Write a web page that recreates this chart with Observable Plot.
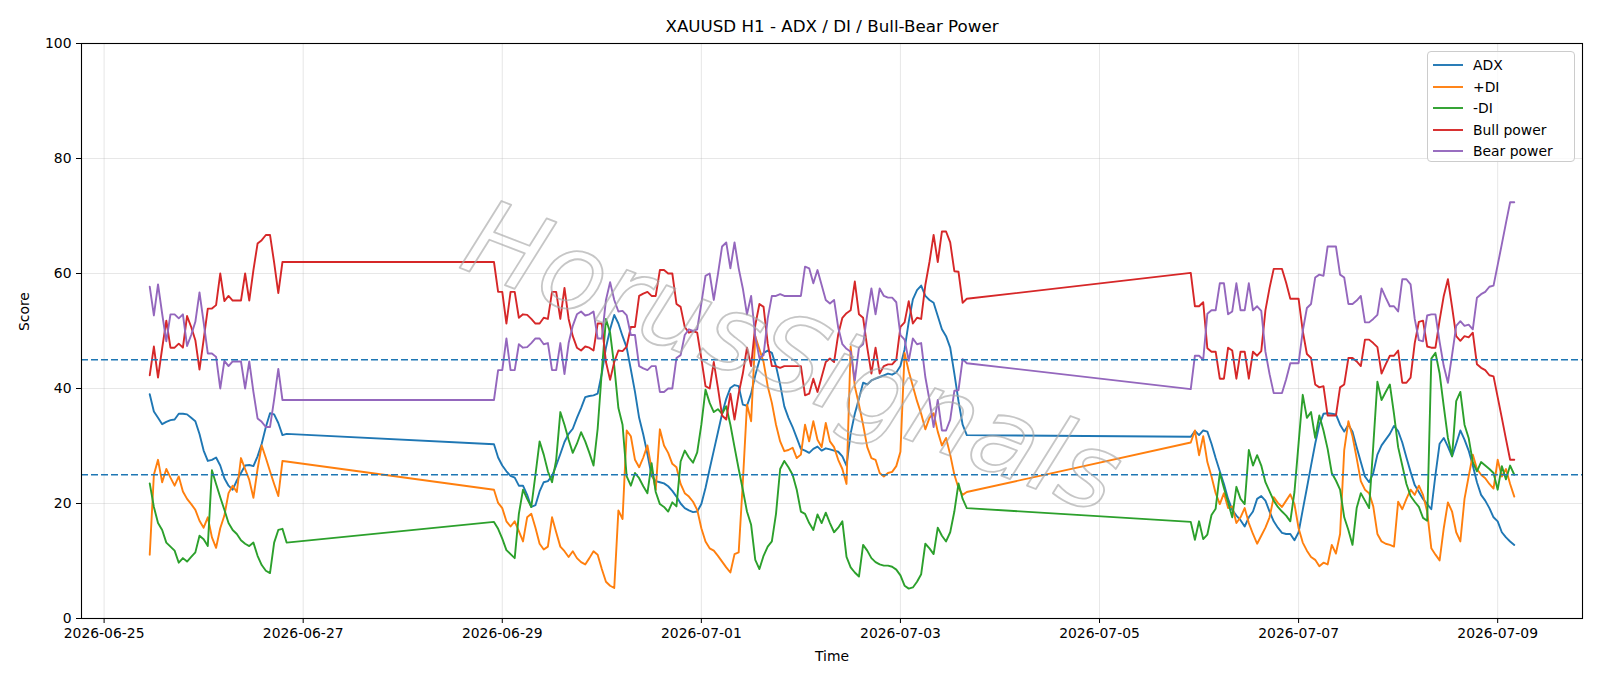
<!DOCTYPE html>
<html>
<head>
<meta charset="utf-8">
<script src="https://cdn.jsdelivr.net/npm/d3@7"></script>
<script src="https://cdn.jsdelivr.net/npm/@observablehq/plot@0.6"></script>
<style>
  html, body { margin: 0; padding: 0; background: #fff; overflow: hidden; }
  #wrap { position: relative; width: 1600px; height: 686px; font-family: "DejaVu Sans", sans-serif; }
  #legend { position: absolute; left: 1427px; top: 51px; width: 148px; height: 111px; box-sizing: border-box;
            border: 1px solid #cccccc; border-radius: 4px; background: rgba(255,255,255,0.8); }
  .lg-row { position: absolute; left: 0; height: 20px; display: flex; align-items: center; }
  .lg-row svg { margin-left: 5px; }
  .lg-row span { margin-left: 10px; font-size: 13.9px; color: #000; white-space: nowrap; }
</style>
</head>
<body>
<div id="wrap"></div>
<script>
// ---- Data (hourly, UTC) ----
const segmentStarts = ["2026-06-25T11:00:00Z", "2026-06-28T22:00:00Z", "2026-07-05T22:00:00Z"];
const segmentHours = [34, 115, 79];

const adx = [
  39.0, 36.0, 34.9, 33.8, 34.2, 34.5, 34.6, 35.6, 35.6, 35.5, 34.9, 34.3, 32.1, 29.2, 27.4, 27.6, 28.0, 26.6, 24.4, 23.1, 22.4, 24.0, 25.3, 26.6, 26.7, 26.5, 28.2, 30.4, 33.3, 35.7, 35.5, 34.0, 31.9, 32.1,
  30.3, 28.0, 26.6, 25.6, 24.8, 24.5, 23.1, 23.1, 21.5, 19.4, 19.7, 22.1, 23.7, 23.9, 24.8, 26.6, 28.6, 30.7, 32.1, 33.0, 34.9, 36.6, 38.5, 38.7, 38.8, 39.1, 42.6, 47.1, 50.3, 52.8, 51.3, 49.1, 47.1, 43.3, 39.4, 34.9,
  32.0, 28.6, 24.8, 23.9, 23.7, 23.5, 23.0, 22.2, 21.2, 20.0, 19.2, 18.8, 18.5, 18.6, 19.9, 22.7, 26.0, 29.2, 32.4, 35.6, 38.2, 40.1, 40.6, 40.4, 37.2, 37.0, 39.1, 42.3, 44.9, 46.2, 46.6, 46.2, 43.9, 40.7, 36.9, 34.9, 33.3, 31.4, 29.5, 29.2, 28.8, 29.5, 29.9, 29.2, 29.6, 29.4, 29.2, 29.0, 28.2, 26.6, 32.2, 35.6, 38.2, 41.0, 40.7, 41.4, 41.7, 42.0, 42.3, 42.6,
  42.4, 42.8, 43.9, 46.8, 51.6, 55.5, 57.1, 57.9, 56.1, 55.4, 54.9, 52.6, 50.3, 49.1, 47.1, 42.6, 37.8, 33.7, 31.9,
  31.6, 32.6, 31.9, 32.7, 32.5, 30.4, 27.9, 25.6, 23.4, 20.8, 18.9, 17.9, 17.1, 16.0, 17.6, 18.6, 20.8, 21.3, 20.5, 18.6, 16.9, 15.8, 14.9, 14.7, 14.7, 13.6, 15.0, 18.9, 22.7, 26.6, 30.4, 33.7, 35.6, 35.7, 35.6, 35.5, 33.7, 32.5, 33.7, 32.5, 29.8, 27.2, 24.7, 23.7, 25.3, 28.5, 30.1, 31.1, 32.1,
  33.5, 32.6, 30.6, 28.0, 25.5, 23.2, 22.0, 20.8, 19.9, 19.0, 25.0, 30.4, 31.4, 29.9, 28.2, 30.4, 32.7, 31.1, 29.2, 26.6, 23.7, 21.5, 20.5, 19.2, 17.6, 16.9, 15.0, 14.1, 13.4, 12.8
];
const plusDI = [
  11.1, 25.0, 27.6, 23.7, 26.0, 24.5, 23.1, 24.7, 22.1, 20.8, 19.9, 18.9, 17.0, 15.8, 17.6, 14.1, 12.3, 15.7, 17.9, 21.8, 23.1, 22.0, 27.9, 26.0, 24.1, 21.0, 26.0, 30.1, 27.9, 25.6, 23.4, 21.3, 27.4, 27.3,
  22.4, 20.1, 19.2, 16.9, 16.0, 16.9, 15.2, 13.4, 17.6, 18.2, 15.8, 13.0, 12.0, 12.5, 17.6, 15.0, 12.5, 11.7, 10.7, 11.7, 10.5, 9.8, 9.4, 10.5, 11.7, 11.1, 8.6, 6.4, 5.7, 5.3, 18.8, 17.3, 32.7, 31.7, 27.6, 26.3,
  28.0, 30.1, 26.0, 22.4, 32.9, 30.1, 28.8, 26.9, 26.3, 23.4, 21.8, 21.2, 20.3, 18.9, 15.7, 13.4, 12.2, 11.8, 10.9, 9.9, 8.9, 8.0, 11.2, 11.5, 23.7, 37.2, 34.3, 49.1, 46.8, 44.6, 40.4, 37.5, 33.7, 30.8, 29.1, 29.3, 29.7, 27.9, 28.5, 33.7, 30.8, 34.3, 31.1, 29.8, 34.0, 30.8, 29.8, 27.6, 26.0, 23.4, 47.3, 40.4, 37.2, 33.7, 29.8, 27.9, 27.6, 25.3, 24.7, 25.3,
  25.5, 26.5, 29.0, 46.2, 43.0, 40.4, 37.8, 35.6, 32.9, 34.9, 35.7, 32.5, 30.1, 31.4, 28.5, 25.0, 22.7, 21.5, 22.0,
  30.6, 32.7, 28.4, 31.7, 27.2, 24.7, 21.8, 19.9, 21.8, 19.2, 19.5, 16.6, 17.6, 19.2, 16.6, 14.7, 13.0, 14.4, 15.8, 17.6, 21.1, 20.1, 19.4, 20.5, 21.6, 19.9, 15.7, 13.2, 11.8, 10.7, 10.2, 9.1, 9.7, 9.4, 12.8, 11.3, 14.7, 29.3, 34.3, 31.7, 27.9, 23.9, 22.4, 21.8, 19.5, 14.7, 13.4, 13.0, 12.8,
  12.5, 20.3, 19.0, 20.8, 22.4, 21.5, 23.1, 21.5, 18.6, 12.2, 11.1, 10.1, 15.7, 20.2, 18.6, 15.0, 13.4, 20.8, 24.7, 28.5, 26.0, 25.0, 24.4, 23.4, 22.6, 27.6, 24.7, 26.0, 23.4, 21.2
];
const minusDI = [
  23.5, 19.4, 16.6, 15.4, 13.2, 12.5, 11.8, 9.7, 10.5, 9.9, 10.7, 11.5, 14.4, 13.8, 12.6, 25.8, 23.4, 21.1, 18.9, 16.6, 15.4, 14.7, 13.6, 13.0, 12.6, 13.2, 10.9, 9.3, 8.3, 7.9, 13.2, 15.4, 15.6, 13.2,
  16.8, 15.6, 13.9, 11.9, 11.2, 10.5, 18.2, 22.4, 20.8, 19.4, 25.0, 30.8, 28.5, 25.6, 23.7, 27.6, 35.9, 33.7, 31.1, 28.8, 30.4, 32.4, 30.8, 28.8, 26.6, 33.0, 43.0, 52.1, 49.7, 43.9, 36.6, 33.7, 24.7, 23.1, 25.3, 24.4,
  23.0, 21.8, 27.0, 22.0, 19.9, 19.4, 18.6, 20.2, 19.5, 27.3, 29.2, 28.0, 27.1, 28.9, 33.7, 39.8, 37.5, 35.9, 36.4, 35.6, 36.9, 33.7, 29.8, 26.0, 22.4, 18.6, 16.3, 10.2, 8.6, 10.9, 12.5, 13.4, 18.2, 26.0, 27.4, 26.3, 25.0, 22.4, 18.6, 18.2, 16.6, 15.4, 18.1, 16.6, 18.4, 16.6, 15.0, 15.8, 16.9, 10.7, 8.9, 8.0, 7.3, 12.8, 11.8, 10.5, 9.8, 9.4, 9.2, 9.2,
  9.0, 8.5, 7.5, 5.7, 5.2, 5.4, 6.4, 7.7, 13.0, 12.2, 11.2, 15.8, 14.4, 13.4, 15.0, 18.6, 23.5, 20.8, 19.2,
  16.8, 13.7, 16.9, 13.8, 14.6, 18.0, 19.1, 25.3, 22.7, 20.2, 17.6, 22.9, 20.8, 19.9, 29.3, 26.6, 28.4, 26.6, 23.7, 22.1, 20.5, 19.4, 18.6, 17.9, 16.9, 22.0, 30.5, 38.9, 34.9, 35.9, 31.4, 35.3, 32.7, 29.5, 25.3, 24.0, 22.4, 17.6, 15.4, 12.8, 19.2, 21.8, 20.5, 19.2, 30.0, 41.2, 38.0, 39.4, 40.7,
  35.6, 29.8, 26.6, 23.4, 21.3, 20.3, 19.4, 17.5, 17.0, 45.2, 46.2, 42.6, 36.9, 31.4, 28.2, 37.8, 39.4, 33.7, 31.4, 27.2, 25.6, 27.2, 26.6, 26.0, 25.3, 22.4, 26.5, 24.2, 26.6, 25.0
];
const bullPower = [
  42.3, 47.3, 41.9, 47.0, 51.8, 47.1, 47.1, 47.8, 47.1, 52.6, 50.7, 48.4, 43.3, 48.5, 53.9, 53.9, 54.5, 60.0, 55.2, 56.1, 55.3, 55.3, 55.3, 60.0, 55.3, 60.6, 65.2, 65.8, 66.7, 66.7, 61.9, 56.6, 62.0, 62.0,
  62.0, 56.8, 56.8, 51.3, 56.8, 56.8, 52.3, 52.9, 52.8, 52.1, 51.3, 51.3, 52.3, 52.1, 56.8, 56.8, 52.1, 57.5, 52.1, 49.1, 47.1, 46.6, 47.3, 47.1, 46.6, 51.3, 51.3, 44.6, 41.5, 44.6, 46.6, 46.5, 47.3, 50.7, 50.7, 56.1,
  56.5, 56.8, 56.1, 56.1, 60.6, 60.6, 60.0, 60.0, 54.7, 54.2, 50.7, 49.7, 50.0, 49.7, 45.2, 40.4, 40.0, 44.6, 40.1, 35.3, 34.6, 39.1, 34.6, 39.1, 42.6, 47.1, 43.9, 51.0, 54.7, 54.2, 47.8, 43.9, 43.9, 43.6, 43.9, 43.9, 43.9, 43.9, 43.9, 38.8, 39.1, 41.7, 39.4, 42.0, 44.6, 45.2, 44.6, 49.4, 52.3, 53.1, 53.6, 58.6, 52.9, 52.3, 47.1, 42.6, 47.1, 42.6, 43.9, 44.2,
  44.2, 45.0, 50.7, 51.5, 55.2, 51.3, 52.3, 52.1, 58.0, 62.0, 66.7, 62.0, 67.3, 67.3, 65.4, 60.4, 60.3, 54.9, 55.6,
  60.1, 54.3, 54.3, 55.0, 47.0, 46.4, 46.4, 41.7, 41.7, 47.1, 46.6, 41.7, 46.4, 46.4, 41.7, 46.4, 45.7, 46.5, 53.6, 57.5, 60.8, 60.8, 60.8, 58.4, 55.6, 55.6, 55.6, 50.0, 46.0, 45.3, 40.7, 40.2, 40.4, 35.3, 35.3, 35.3, 40.2, 40.7, 45.3, 45.3, 44.7, 43.9, 48.5, 48.5, 47.9, 47.2, 42.6, 44.2, 45.7,
  45.7, 46.6, 41.0, 41.0, 41.9, 47.9, 51.6, 51.8, 47.3, 47.1, 47.1, 51.9, 56.1, 59.0, 54.2, 49.1, 48.3, 49.1, 48.9, 49.7, 44.2, 43.6, 43.2, 42.3, 42.1, 38.5, 34.9, 31.2, 27.6, 27.6
];
const bearPower = [
  57.7, 52.7, 58.1, 53.0, 48.2, 52.9, 52.9, 52.2, 52.9, 47.4, 49.3, 51.6, 56.7, 51.5, 46.1, 46.1, 45.5, 40.0, 44.8, 43.9, 44.7, 44.7, 44.7, 40.0, 44.7, 39.4, 34.8, 34.2, 33.3, 33.3, 38.1, 43.4, 38.0, 38.0,
  38.0, 43.2, 43.2, 48.7, 43.2, 43.2, 47.7, 47.1, 47.2, 47.9, 48.7, 48.7, 47.7, 47.9, 43.2, 43.2, 47.9, 42.5, 47.9, 50.9, 52.9, 53.4, 52.7, 52.9, 53.4, 48.7, 48.7, 55.4, 58.5, 55.4, 53.4, 53.5, 52.7, 49.3, 49.3, 43.9,
  43.5, 43.2, 43.9, 43.9, 39.4, 39.4, 40.0, 40.0, 45.3, 45.8, 49.3, 50.3, 50.0, 50.3, 54.8, 59.6, 60.0, 55.4, 59.9, 64.7, 65.4, 60.9, 65.4, 60.9, 57.4, 52.9, 56.1, 49.0, 45.3, 45.8, 52.2, 56.1, 56.1, 56.4, 56.1, 56.1, 56.1, 56.1, 56.1, 61.2, 60.9, 58.3, 60.6, 58.0, 55.4, 54.8, 55.4, 50.6, 47.7, 46.9, 46.4, 41.4, 47.1, 47.7, 52.9, 57.4, 52.9, 57.4, 56.1, 55.8,
  55.8, 55.0, 49.3, 48.5, 44.8, 48.7, 47.7, 47.9, 42.0, 38.0, 33.3, 38.0, 32.7, 32.7, 34.6, 39.6, 39.7, 45.1, 44.4,
  39.9, 45.7, 45.7, 45.0, 53.0, 53.6, 53.6, 58.3, 58.3, 52.9, 53.4, 58.3, 53.6, 53.6, 58.3, 53.6, 54.3, 53.5, 46.4, 42.5, 39.2, 39.2, 39.2, 41.6, 44.4, 44.4, 44.4, 50.0, 54.0, 54.7, 59.3, 59.8, 59.6, 64.7, 64.7, 64.7, 59.8, 59.3, 54.7, 54.7, 55.3, 56.1, 51.5, 51.5, 52.1, 52.8, 57.4, 55.8, 54.3,
  54.3, 53.4, 59.0, 59.0, 58.1, 52.1, 48.4, 48.2, 52.7, 52.9, 52.9, 48.1, 43.9, 41.0, 45.8, 50.9, 51.7, 50.9, 51.1, 50.3, 55.8, 56.4, 56.8, 57.7, 57.9, 61.5, 65.1, 68.8, 72.4, 72.4
];

const seriesNames = ["ADX", "+DI", "-DI", "Bull power", "Bear power"];
const seriesColors = ["#1f77b4", "#ff7f0e", "#2ca02c", "#d62728", "#9467bd"];
const thresholds = [45, 25];
const xTickLabels = ["2026-06-25", "2026-06-27", "2026-06-29", "2026-07-01", "2026-07-03", "2026-07-05", "2026-07-07", "2026-07-09"];
const yTicks = [0, 20, 40, 60, 80, 100];
const titleText = "XAUUSD H1 - ADX / DI / Bull-Bear Power";
const xLabel = "Time";
const yLabel = "Score";
const watermark = "HorusSignals";

// ---- build table ----
const times = [];
segmentStarts.forEach((s, i) => {
  const t0 = new Date(s).getTime();
  for (let k = 0; k < segmentHours[i]; k++) times.push(new Date(t0 + k * 3600e3));
});
const seriesValues = [adx, plusDI, minusDI, bullPower, bearPower];
const rows = [];
seriesValues.forEach((vals, si) => {
  const n = Math.min(vals.length, times.length);
  for (let i = 0; i < n; i++) rows.push({t: times[i], v: vals[i], s: seriesNames[si]});
});

const [tMin, tMax] = d3.extent(times);
const pad = (tMax - tMin) * 0.05;
const xDomain = [new Date(+tMin - pad), new Date(+tMax + pad)];
const xTicks = xTickLabels.map(s => new Date(s + "T00:00:00Z"));

const marks = [
  Plot.gridX(xTicks, {stroke: "#b0b0b0", strokeOpacity: 0.3, strokeWidth: 1}),
  Plot.gridY(yTicks, {stroke: "#b0b0b0", strokeOpacity: 0.3, strokeWidth: 1}),
  ...seriesNames.map((name, si) =>
    Plot.line(rows.filter(r => r.s === name), {x: "t", y: "v", stroke: seriesColors[si], strokeWidth: 1.9, strokeLinejoin: "round"})
  ),
  Plot.ruleY(thresholds, {stroke: "#1f77b4", strokeWidth: 1.3, strokeDasharray: "7,3"}),
  Plot.text([watermark], {frameAnchor: "middle", dx: -40, dy: 28, rotate: 21, fontSize: 106, fontStyle: "italic",
    fontFamily: "DejaVu Sans", fill: "none", stroke: "#a8a8a8", strokeWidth: 1.8, strokeOpacity: 0.65, text: d => d}),
  Plot.frame({stroke: "black", strokeWidth: 1.1}),
  Plot.axisX({ticks: xTicks, tickFormat: d3.utcFormat("%Y-%m-%d"), tickSize: 5, tickPadding: 5, label: null}),
  Plot.axisY({ticks: yTicks, tickSize: 5, tickPadding: 5, label: null}),
  Plot.text([titleText], {frameAnchor: "top", dy: -16.5, fontSize: 16.7, lineAnchor: "middle", text: d => d}),
  Plot.text([xLabel], {frameAnchor: "bottom", dy: 38, fontSize: 13.9, lineAnchor: "middle", text: d => d}),
  Plot.text([yLabel], {frameAnchor: "left", dx: -56.5, rotate: -90, fontSize: 13.9, lineAnchor: "middle", text: d => d})
];

const chart = Plot.plot({
  width: 1600,
  height: 686,
  marginTop: 43,
  marginBottom: 68,
  marginLeft: 81,
  marginRight: 18,
  style: {fontFamily: "DejaVu Sans", fontSize: "13.9px", color: "black", background: "white", overflow: "visible"},
  x: {type: "utc", domain: xDomain},
  y: {domain: [0, 100]},
  marks
});
const wrap = document.getElementById("wrap");
wrap.appendChild(chart);

// ---- legend ----
const legend = document.createElement("div");
legend.id = "legend";
seriesNames.forEach((name, i) => {
  const row = document.createElement("div");
  row.className = "lg-row";
  row.style.top = (3 + i * 21.5) + "px";
  row.innerHTML = `<svg width="30" height="20"><line x1="0" x2="30" y1="10" y2="10" stroke="${seriesColors[i]}" stroke-width="1.9"/></svg><span>${name}</span>`;
  legend.appendChild(row);
});
wrap.appendChild(legend);
</script>
</body>
</html>
